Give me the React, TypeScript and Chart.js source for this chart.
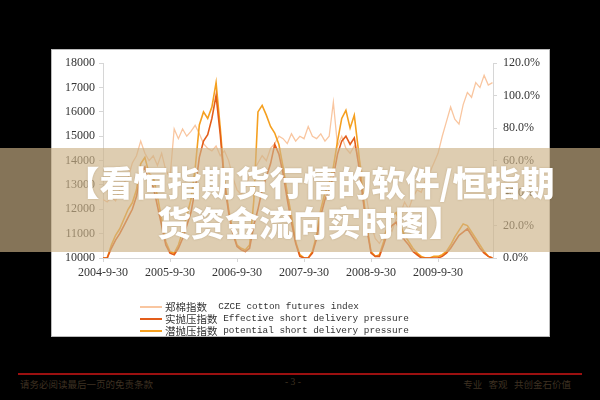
import { useEffect, useRef } from 'react';
import { Chart, registerables } from 'chart.js';

Chart.register(...registerables);

// time step between samples, in years since 2004-9-30
const STEP = 1 / 16;
const X_MAX = 5.82;

const X_TICK_LABELS = ['2004-9-30', '2005-9-30', '2006-9-30', '2007-9-30', '2008-9-30', '2009-9-30'];

// 郑棉指数 CZCE cotton futures index (left axis)
const COTTON = [
  12400, 12300, 12500, 12350, 12800, 13100, 13300, 13900, 14200, 14800,
  14300, 14000, 14200, 13800, 14300, 13600, 13300, 15300, 14900, 15300,
  15000, 15200, 15450, 15100, 14700, 14500, 14400, 14600, 14200, 14400,
  14000, 13300, 12800, 12600, 12900, 13400, 13600, 13900, 14200, 14000,
  14500, 14700, 15000, 14900, 14700, 15100, 14800, 15000, 14900, 15400,
  15000, 14900, 15100, 14800, 15000, 16400, 14600, 15000, 14500, 14300,
  14600, 14200, 13400, 12400, 11400, 10800, 10600, 10900, 11300, 11100,
  11600, 11800, 12300, 12000, 12500, 12800, 12700, 13200, 13500, 13900,
  14300, 15000, 15600, 16200, 15700, 15500, 16300, 16800, 16600, 17200,
  17000, 17500, 17100, 17200,
];

// 实抛压指数 Effective short delivery pressure (right axis, %)
const EFFECTIVE = [
  0, 0, 6, 11, 15, 20, 25, 30, 38, 52,
  56, 46, 44, 32, 20, 8, 3, 2, 6, 12,
  20, 28, 42, 62, 72, 76, 86, 100, 76, 46,
  28, 15, 7, 5, 4, 6, 20, 30, 42, 50,
  58, 70, 64, 52, 36, 22, 9, 1, 0, 0,
  3, 12, 26, 36, 42, 50, 64, 72, 75, 70,
  74, 58, 38, 18, 3, 1, 1, 8, 16, 20,
  22, 16, 11, 8, 4, 2, 0, 0, 0, 0,
  0, 1, 3, 6, 10, 14, 16, 18, 14, 10,
  6, 3, 1, 0,
];

// 潜抛压指数 potential short delivery pressure (right axis, %)
const POTENTIAL = [
  0, 0, 8, 14, 18, 24, 30, 34, 42, 58,
  62, 52, 50, 38, 24, 10, 4, 3, 8, 16,
  26, 36, 55, 82, 90, 86, 93, 108, 80, 48,
  30, 16, 8, 6, 5, 8, 35, 90, 94, 88,
  81, 77, 70, 56, 40, 26, 10, 2, 0, 0,
  4, 14, 30, 40, 46, 56, 72, 86, 91, 80,
  88, 66, 42, 20, 4, 1, 2, 10, 20, 26,
  28, 20, 14, 10, 6, 3, 1, 0, 0, 1,
  1, 2, 4, 8, 13, 17, 21, 20, 16, 12,
  8, 4, 1, 0,
];

const LEGEND = [
  { cn: '郑棉指数', en: '  CZCE cotton futures index', color: '#f9c6a0', w: 2 },
  { cn: '实抛压指数', en: ' Effective short delivery pressure', color: '#e35d1a', w: 2.5 },
  { cn: '潜抛压指数', en: ' potential short delivery pressure', color: '#f5a020', w: 2 },
];

const TITLE_LINES = ['【看恒指期货行情的软件/恒指期', '货资金流向实时图】'];

export default function App() {
  const ref = useRef<HTMLCanvasElement>(null);

  useEffect(() => {
    const toPts = (arr: number[]) => arr.map((v, i) => ({ x: i * STEP, y: v }));
    const axisFont = { family: "'Liberation Serif', 'DejaVu Serif', serif", size: 12 };
    const gridStyle = { display: true, drawOnChartArea: false, drawTicks: true, tickLength: 4, color: '#d6d6d6' };
    const chart = new Chart(ref.current as HTMLCanvasElement, {
      type: 'line',
      data: {
        datasets: [
          { label: 'effective', data: toPts(EFFECTIVE), yAxisID: 'y1', borderColor: '#e35d1a', borderWidth: 1.6, pointRadius: 0, tension: 0, order: 1 },
          { label: 'potential', data: toPts(POTENTIAL), yAxisID: 'y1', borderColor: '#f5a020', borderWidth: 1.6, pointRadius: 0, tension: 0, order: 2 },
          { label: 'cotton', data: toPts(COTTON), yAxisID: 'y', borderColor: '#f9c6a0', borderWidth: 1.3, pointRadius: 0, tension: 0, order: 3 },
        ],
      },
      options: {
        responsive: false,
        animation: false,
        devicePixelRatio: 1,
        layout: { padding: { left: 0, right: 0, top: 10, bottom: 48 } },
        plugins: { legend: { display: false }, tooltip: { enabled: false } },
        scales: {
          x: {
            type: 'linear',
            min: 0,
            max: X_MAX,
            grid: gridStyle,
            border: { display: true, color: '#d6d6d6' },
            ticks: {
              stepSize: 1,
              includeBounds: false,
              autoSkip: false,
              maxRotation: 0,
              padding: 4,
              color: '#333',
              font: axisFont,
              callback: (v: any) => (Number.isInteger(v) ? X_TICK_LABELS[v] ?? '' : ''),
            },
            afterFit: (s: any) => { s.height = 30; },
          },
          y: {
            position: 'left',
            min: 10000,
            max: 18000,
            grid: gridStyle,
            border: { display: true, color: '#d6d6d6' },
            ticks: { stepSize: 1000, padding: 4, color: '#333', font: axisFont, callback: (v: any) => String(v) },
            afterFit: (s: any) => { s.width = 51; },
          },
          y1: {
            position: 'right',
            min: 0,
            max: 120,
            grid: gridStyle,
            border: { display: true, color: '#d6d6d6' },
            ticks: {
              stepSize: 20,
              padding: 6,
              color: '#333',
              font: axisFont,
              callback: (v: any) => Number(v).toFixed(1) + '%',
            },
            afterFit: (s: any) => { s.width = 56; },
          },
        },
      },
    } as any);
    return () => chart.destroy();
  }, []);

  return (
    <div style={{ position: 'fixed', left: 0, top: 0, width: 600, height: 400, background: '#000', overflow: 'hidden' }}>
      <div style={{ position: 'absolute', left: 52, top: 50, width: 497, height: 286, background: '#fff', boxShadow: '0 0 0 1px #bbb' }}>
        <canvas ref={ref} width={497} height={286} style={{ display: 'block' }} />
        {LEGEND.map((item, k) => (
          <div key={k} style={{ position: 'absolute', left: 88, top: 250 + k * 12, height: 14, display: 'flex', alignItems: 'center', whiteSpace: 'pre', color: '#333' }}>
            <span style={{ display: 'inline-block', width: 22, height: item.w, background: item.color, marginRight: 3 }} />
            <span style={{ fontFamily: "'Noto Sans CJK SC', sans-serif", fontSize: 10.5, lineHeight: '14px' }}>{item.cn}</span>
            <span style={{ fontFamily: "'Liberation Mono', monospace", fontSize: 9.4, lineHeight: '14px' }}>{item.en}</span>
          </div>
        ))}
      </div>
      <div style={{ position: 'absolute', left: 0, top: 148, width: 600, height: 104, background: 'rgba(205,178,135,0.65)' }} />
      {TITLE_LINES.map((t, k) => (
        <div key={k} style={{ position: 'absolute', left: 0, width: 620, top: 162 + k * 40, height: 40, lineHeight: '40px', textAlign: 'center', color: '#fff', fontFamily: "'Noto Sans CJK SC', sans-serif", fontWeight: 900, fontSize: 34, whiteSpace: 'nowrap', textShadow: '0 0 2px rgba(120,90,40,0.35)' }}>{t}</div>
      ))}
      <div style={{ position: 'absolute', left: 18, top: 373, width: 564, height: 2, background: '#9b1010' }} />
      <div style={{ position: 'absolute', left: 20, top: 377, fontSize: 9.5, color: '#3e3122', fontFamily: "'Noto Sans CJK SC', sans-serif", whiteSpace: 'pre' }}>请务必阅读最后一页的免责条款</div>
      <div style={{ position: 'absolute', left: 273, width: 40, top: 377, textAlign: 'center', fontSize: 9.5, color: '#3e3122', fontFamily: "'Liberation Serif', serif", whiteSpace: 'pre' }}>- 3 -</div>
      <div style={{ position: 'absolute', right: 29, top: 377, fontSize: 9.5, color: '#3e3122', fontFamily: "'Noto Sans CJK SC', sans-serif", whiteSpace: 'pre' }}>专业   客观   共创金石价值</div>
    </div>
  );
}
